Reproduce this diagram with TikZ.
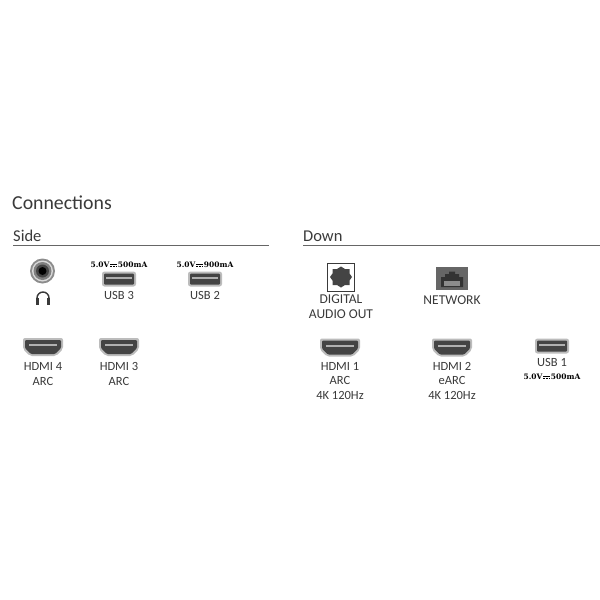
\documentclass[tikz,border=0pt]{standalone}
\usepackage{fontspec}
\setmainfont{Carlito}
\newfontfamily\ratefont{DejaVu Serif}
\usetikzlibrary{positioning}
\definecolor{inktext}{HTML}{3A3A3A}
\definecolor{portdark}{HTML}{444444}
\definecolor{portrim}{HTML}{BCBCBC}
\definecolor{portbar}{HTML}{B0B0B0}
% direct current sign, drawn because no listed family has it
\newcommand{\dcmark}{\kern0.5pt\raisebox{1pt}{\vbox{\offinterlineskip\hbox{\rule{7.4pt}{0.6pt}}\kern0.8pt\hbox{\rule{1.8pt}{0.6pt}\kern1pt\rule{1.8pt}{0.6pt}\kern1pt\rule{1.8pt}{0.6pt}}}}\kern0.5pt}
\newcommand{\ratelabel}[1]{5.0V\dcmark#1mA}
\tikzset{
    x=1pt,y=-1pt,
    titletext/.style={anchor=west,inner sep=0pt,text=inktext,font=\fontsize{19.8}{24}\selectfont},
    headtext/.style={anchor=west,inner sep=0pt,text=inktext,font=\fontsize{16.5}{20}\selectfont},
    portlabel/.style={anchor=north,inner sep=0pt,align=center,text=inktext,font=\fontsize{12.5}{14.4}\selectfont},
    portwide/.style={portlabel,font=\fontsize{13.5}{14.4}\selectfont},
    ratelabel/.style={inner sep=0pt,text=black,font=\ratefont\bfseries\fontsize{7.5}{8}\selectfont},
    rule/.style={draw=black!60,line width=0.8pt},
    hdmiport/.pic={
        \fill[portrim,rounded corners=2pt] (-20,-9) -- (20,-9) -- (20,2) -- (13,9) -- (-13,9) -- (-20,2) -- cycle;
        \fill[portdark,rounded corners=1pt] (-18,-7) -- (18,-7) -- (18,1) -- (12,7) -- (-12,7) -- (-18,1) -- cycle;
        \fill[portbar] (-14,-3) rectangle (14,-1);
    },
    usbport/.pic={
        \fill[portrim,rounded corners=2.5pt] (-17,-7.5) rectangle (17,7.5);
        \fill[portdark,rounded corners=1pt] (-15,-5.5) rectangle (15,5.5);
        \fill[portbar] (-13,-2) rectangle (13,0);
    }
}
\begin{document}
\begin{tikzpicture}
    \useasboundingbox[fill=white] (0,0) rectangle (600,600);

    \node[titletext] (title) at (12,203) {Connections};
    \node[headtext] (side) at (13,236) {Side};
    \node[headtext] (down) at (303,236) {Down};
    \coordinate (sidea) at (13,245);
    \coordinate (sideb) at (269,245);
    \coordinate (downa) at (303,245);
    \coordinate (downb) at (600,245);
    \draw[rule] (sidea) -- (sideb);
    \draw[rule] (downa) -- (downb);

    % side row
    \fill[black!45] (42.5,271) circle (12.5);
    \fill[black!15] (42.5,271) circle (10.5);
    \fill[black!50] (42.5,271) circle (9);
    \fill[portdark] (42.5,271) circle (6.5);
    \fill[black] (42.5,271) circle (4);
    \draw[inktext,line width=1.4pt] (37,298) arc (180:360:6);
    \fill[inktext] (36,297.5) rectangle (39,304.5);
    \fill[inktext] (47,297.5) rectangle (50,304.5);

    \pic (usbc) at (119,279) {usbport};
    \pic (usbb) at (205,279) {usbport};
    \node[ratelabel] (ratec) at (119,264.5) {\ratelabel{500}};
    \node[ratelabel] (rateb) at (205,264.5) {\ratelabel{900}};
    \node[portlabel] (labc) at (119,291) {USB 3};
    \node[portlabel] (labb) at (205,291) {USB 2};

    \pic (hdmid) at (43,347) {hdmiport};
    \pic (hdmic) at (119,347) {hdmiport};
    \node[portlabel] (labhd) at (43,362.5) {HDMI 4\\ARC};
    \node[portlabel] (labhc) at (119,362.5) {HDMI 3\\ARC};

    % down row
    \draw[inktext,line width=0.9pt] (327.5,263.5) rectangle (354,291);
    \fill[portdark] (341,266.5) -- (345,269) -- (349.5,269) -- (349.5,273.5) -- (352,277) -- (349.5,280.5) -- (349.5,285) -- (345,285) -- (341,287.5) -- (337,285) -- (332.5,285) -- (332.5,280.5) -- (330,277) -- (332.5,273.5) -- (332.5,269) -- (337,269) -- cycle;
    \node[portwide] (labopt) at (341,295) {DIGITAL\\AUDIO OUT};

    \fill[black!60] (436,267) rectangle (468,290);
    \fill[black!80] (441,287) -- (441,277) -- (445,277) -- (445,274) -- (449,274) -- (449,271.5) -- (455,271.5) -- (455,274) -- (459,274) -- (459,277) -- (463,277) -- (463,287) -- cycle;
    \fill[black!45] (444,281) rectangle (460,286);
    \node[portwide] (labnet) at (452,296) {NETWORK};

    \pic (hdmia) at (340,347.5) {hdmiport};
    \pic (hdmib) at (452,347.5) {hdmiport};
    \pic (usba) at (552,346) {usbport};
    \node[portlabel] (labha) at (340,362) {HDMI 1\\ARC\\4K 120Hz};
    \node[portlabel] (labhb) at (452,362) {HDMI 2\\eARC\\4K 120Hz};
    \node[portlabel] (laba) at (552,358) {USB 1};
    \node[ratelabel] (ratea) at (552,376.5) {\ratelabel{500}};
\end{tikzpicture}
\end{document}
